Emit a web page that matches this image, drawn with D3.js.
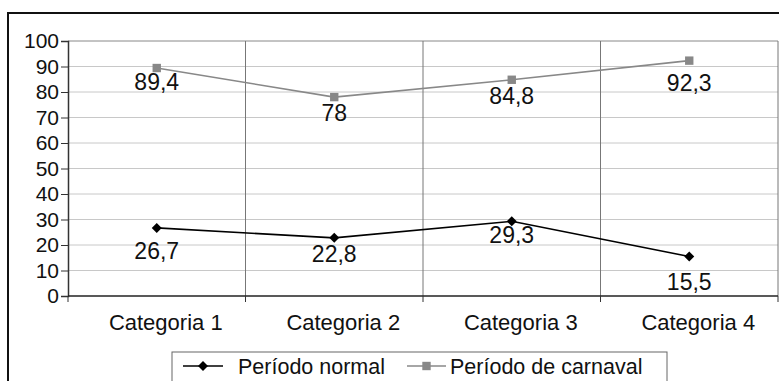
<!DOCTYPE html>
<html>
<head>
<meta charset="utf-8">
<script src="https://cdn.jsdelivr.net/npm/d3@7"></script>
<style>
  html, body { margin: 0; padding: 0; background: #fff; }
  svg { display: block; font-family: "Liberation Sans", Arial, sans-serif; }
</style>
</head>
<body>
<svg id="chart" width="779" height="381"></svg>
<script>
// Categories, series and axis ticks
const categories = ["Categoria 1", "Categoria 2", "Categoria 3", "Categoria 4"];
const normalValues = [26.7, 22.8, 29.3, 15.5];
const carnavalValues = [89.4, 78, 84.8, 92.3];
const seriesNames = ["Período normal", "Período de carnaval"];
const yTicks = [0, 10, 20, 30, 40, 50, 60, 70, 80, 90, 100];

const svg = d3.select("#chart");
const plot = { left: 68, right: 778, top: 41, bottom: 296 };
const FONT = "Liberation Sans, Arial, sans-serif";

// vertical placement of each value label below its point (px)
const labelDyNormal = [31, 24, 22, 34];
const labelDyCarnaval = [22, 24, 24, 30];

const x = d3.scaleBand().domain(categories).range([plot.left, plot.right]);
const y = d3.scaleLinear().domain([0, 100]).range([plot.bottom, plot.top]);
const fmt = v => String(v).replace(".", ",");

// marker shapes
const diamond = r => `M0,${-r}L${r},0L0,${r}L${-r},0Z`;
const square = r => `M${-r},${-r}H${r}V${r}H${-r}Z`;

// outer frame
svg.append("rect")
  .attr("x", 8).attr("y", 13).attr("width", 790).attr("height", 400)
  .attr("fill", "none").attr("stroke", "#111").attr("stroke-width", 2);

// horizontal gridlines
svg.append("g").selectAll("line").data(yTicks.filter(d => d > 0)).join("line")
  .attr("x1", plot.left).attr("x2", plot.right)
  .attr("y1", d => y(d)).attr("y2", d => y(d))
  .attr("stroke", d => d === 100 ? "#888" : "#c8c8c8").attr("stroke-width", 1);

// vertical category separators
svg.append("g").selectAll("line").data(categories.slice(1).concat(["end"])).join("line")
  .attr("x1", (d, i) => i < 3 ? x(d) : plot.right)
  .attr("x2", (d, i) => i < 3 ? x(d) : plot.right)
  .attr("y1", plot.top).attr("y2", plot.bottom)
  .attr("stroke", "#777").attr("stroke-width", 1);

// y axis
const yAxis = svg.append("g")
  .attr("transform", `translate(${plot.left},0)`)
  .call(d3.axisLeft(y).tickValues(yTicks).tickSize(7).tickPadding(2).tickFormat(d => d));
yAxis.attr("font-size", 21).attr("font-family", FONT);
yAxis.select(".domain").attr("stroke", "#333").attr("stroke-width", 1.5);
yAxis.selectAll(".tick line").attr("stroke", "#333");
yAxis.selectAll("text").attr("fill", "#111");

// x axis: ticks at category boundaries
const xAxisG = svg.append("g").attr("transform", `translate(0,${plot.bottom})`);
xAxisG.append("line").attr("x1", plot.left).attr("x2", plot.right)
  .attr("y1", 0).attr("y2", 0).attr("stroke", "#222").attr("stroke-width", 1.5);
xAxisG.selectAll(".bt").data(categories.concat(["end"])).join("line")
  .attr("class", "bt")
  .attr("x1", (d, i) => i < 4 ? x(d) : plot.right)
  .attr("x2", (d, i) => i < 4 ? x(d) : plot.right)
  .attr("y1", 0).attr("y2", 6).attr("stroke", "#333");
xAxisG.selectAll("text").data(categories).join("text")
  .attr("x", d => x(d) + x.bandwidth() / 2 + 9)
  .attr("y", 34)
  .attr("text-anchor", "middle")
  .attr("font-size", 22).attr("fill", "#111")
  .text(d => d);

const cx = d => x(d) + x.bandwidth() / 2;
const line = d3.line().x(d => cx(d.c)).y(d => y(d.v));

const series = [
  { name: seriesNames[0], values: normalValues, dy: labelDyNormal, color: "#000", marker: diamond(5) },
  { name: seriesNames[1], values: carnavalValues, dy: labelDyCarnaval, color: "#888", marker: square(4.2) }
];

series.forEach(s => {
  const pts = categories.map((c, i) => ({ c, v: s.values[i], dy: s.dy[i] }));
  svg.append("path").datum(pts)
    .attr("d", line).attr("fill", "none")
    .attr("stroke", s.color).attr("stroke-width", 1.6);
  svg.append("g").selectAll("path").data(pts).join("path")
    .attr("d", s.marker)
    .attr("transform", d => `translate(${cx(d.c)},${y(d.v)})`)
    .attr("fill", s.color);
  svg.append("g").selectAll("text").data(pts).join("text")
    .attr("x", d => cx(d.c))
    .attr("y", d => y(d.v) + d.dy)
    .attr("text-anchor", "middle")
    .attr("font-size", 23).attr("fill", "#111")
    .text(d => fmt(d.v));
});

// legend
const lg = svg.append("g");
lg.append("rect").attr("x", 172).attr("y", 352).attr("width", 495).attr("height", 40)
  .attr("fill", "#fff").attr("stroke", "#666").attr("stroke-width", 1);
const legendItems = [
  { s: series[0], x0: 183, x1: 223, tx: 238 },
  { s: series[1], x0: 407, x1: 446, tx: 450 }
];
legendItems.forEach(it => {
  lg.append("line").attr("x1", it.x0).attr("x2", it.x1)
    .attr("y1", 366).attr("y2", 366)
    .attr("stroke", it.s.color).attr("stroke-width", 1.6);
  lg.append("path").attr("d", it.s.marker)
    .attr("transform", `translate(${(it.x0 + it.x1) / 2},366)`)
    .attr("fill", it.s.color);
  lg.append("text").attr("x", it.tx).attr("y", 374)
    .attr("font-size", 21.5).attr("fill", "#111")
    .text(it.s.name);
});
</script>
</body>
</html>
